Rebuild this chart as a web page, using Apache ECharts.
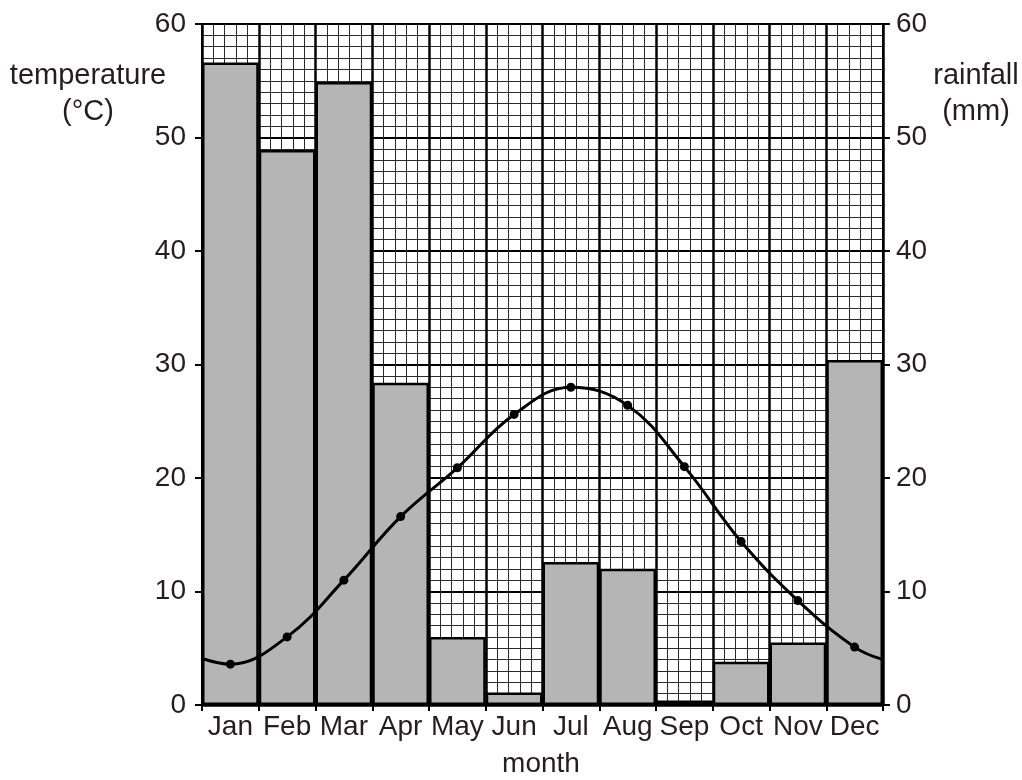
<!DOCTYPE html>
<html>
<head>
<meta charset="utf-8">
<script src="https://cdn.jsdelivr.net/npm/echarts@6/dist/echarts.min.js"></script>
<style>
html,body{margin:0;padding:0;background:#fff;}
#c{width:1022px;height:780px;}
</style>
</head>
<body>
<div id="c"></div>
<script>
const months = ['Jan','Feb','Mar','Apr','May','Jun','Jul','Aug','Sep','Oct','Nov','Dec'];
const rainfall = [56.6, 48.9, 54.9, 28.4, 6.0, 1.1, 12.6, 12.0, 0.4, 3.8, 5.5, 30.4];
const temperature = [3.6, 6.0, 11.0, 16.6, 20.9, 25.6, 28.0, 26.4, 21.0, 14.4, 9.2, 5.1];
const tempEdgeStart = 4.1;
const tempEdgeEnd = 4.0;

const FONT = 'Liberation Sans, Arial, sans-serif';
const TXT = '#231f20';
const FS = 28;

const lineData = [{value:[0, tempEdgeStart], symbol:'none'}];
temperature.forEach((t,i)=>lineData.push([i*5+2.5, t]));
lineData.push({value:[60, tempEdgeEnd], symbol:'none'});

const chart = echarts.init(document.getElementById('c'));
chart.setOption({
  animation:false,
  backgroundColor:'#fff',
  grid:{left:202,right:139,top:24,bottom:75},
  xAxis:[
    {type:'category', data:months, boundaryGap:true,
     axisLine:{show:true,lineStyle:{color:'#000',width:2.5}},
     axisTick:{show:true,length:6,lineStyle:{color:'#000',width:2}},
     axisLabel:{color:TXT,fontFamily:FONT,fontSize:FS,margin:8,interval:0},
     splitLine:{show:false}, z:5},
    {type:'value', min:0, max:60, interval:5, show:true,
     axisLine:{show:false}, axisTick:{show:false}, axisLabel:{show:false},
     splitLine:{show:true,lineStyle:{color:'#000',width:2.5}},
     minorTick:{show:false,splitNumber:5},
     minorSplitLine:{show:true,lineStyle:{color:'#2a2a2a',width:1}}}
  ],
  yAxis:[
    {type:'value', min:0, max:60, interval:10, position:'left',
     axisLine:{show:true,lineStyle:{color:'#000',width:2}},
     axisTick:{show:true,length:7,lineStyle:{color:'#000',width:2}},
     axisLabel:{color:TXT,fontFamily:FONT,fontSize:FS,margin:16},
     splitLine:{show:true,lineStyle:{color:'#000',width:2}},
     minorTick:{show:false,splitNumber:10},
     minorSplitLine:{show:true,lineStyle:{color:'#2a2a2a',width:1}}},
    {type:'value', min:0, max:60, interval:10, position:'right',
     axisLine:{show:true,lineStyle:{color:'#000',width:2}},
     axisTick:{show:true,length:7,lineStyle:{color:'#000',width:2}},
     axisLabel:{color:TXT,fontFamily:FONT,fontSize:FS,margin:13},
     splitLine:{show:false}}
  ],
  series:[
    {type:'bar', name:'rainfall', xAxisIndex:0, yAxisIndex:1, data:rainfall,
     barCategoryGap:'0%', barGap:'0%',
     itemStyle:{color:'#b5b5b5',borderColor:'#000',borderWidth:2.5}, z:3},
    {type:'line', name:'temperature', xAxisIndex:1, yAxisIndex:0, data:lineData,
     smooth:0.4, symbol:'circle', symbolSize:9,
     lineStyle:{color:'#000',width:3},
     itemStyle:{color:'#000'}, z:6}
  ],
  graphic:[
    {type:'text', x:88, y:58,
     style:{text:'temperature\n(°C)', fill:TXT, font:'29px '+FONT, textAlign:'center', lineHeight:36}},
    {type:'text', x:976, y:58,
     style:{text:'rainfall\n(mm)', fill:TXT, font:'29px '+FONT, textAlign:'center', lineHeight:36}},
    {type:'text', x:541, y:750,
     style:{text:'month', fill:TXT, font:FS+'px '+FONT, textAlign:'center'}}
  ]
});
</script>
</body>
</html>
